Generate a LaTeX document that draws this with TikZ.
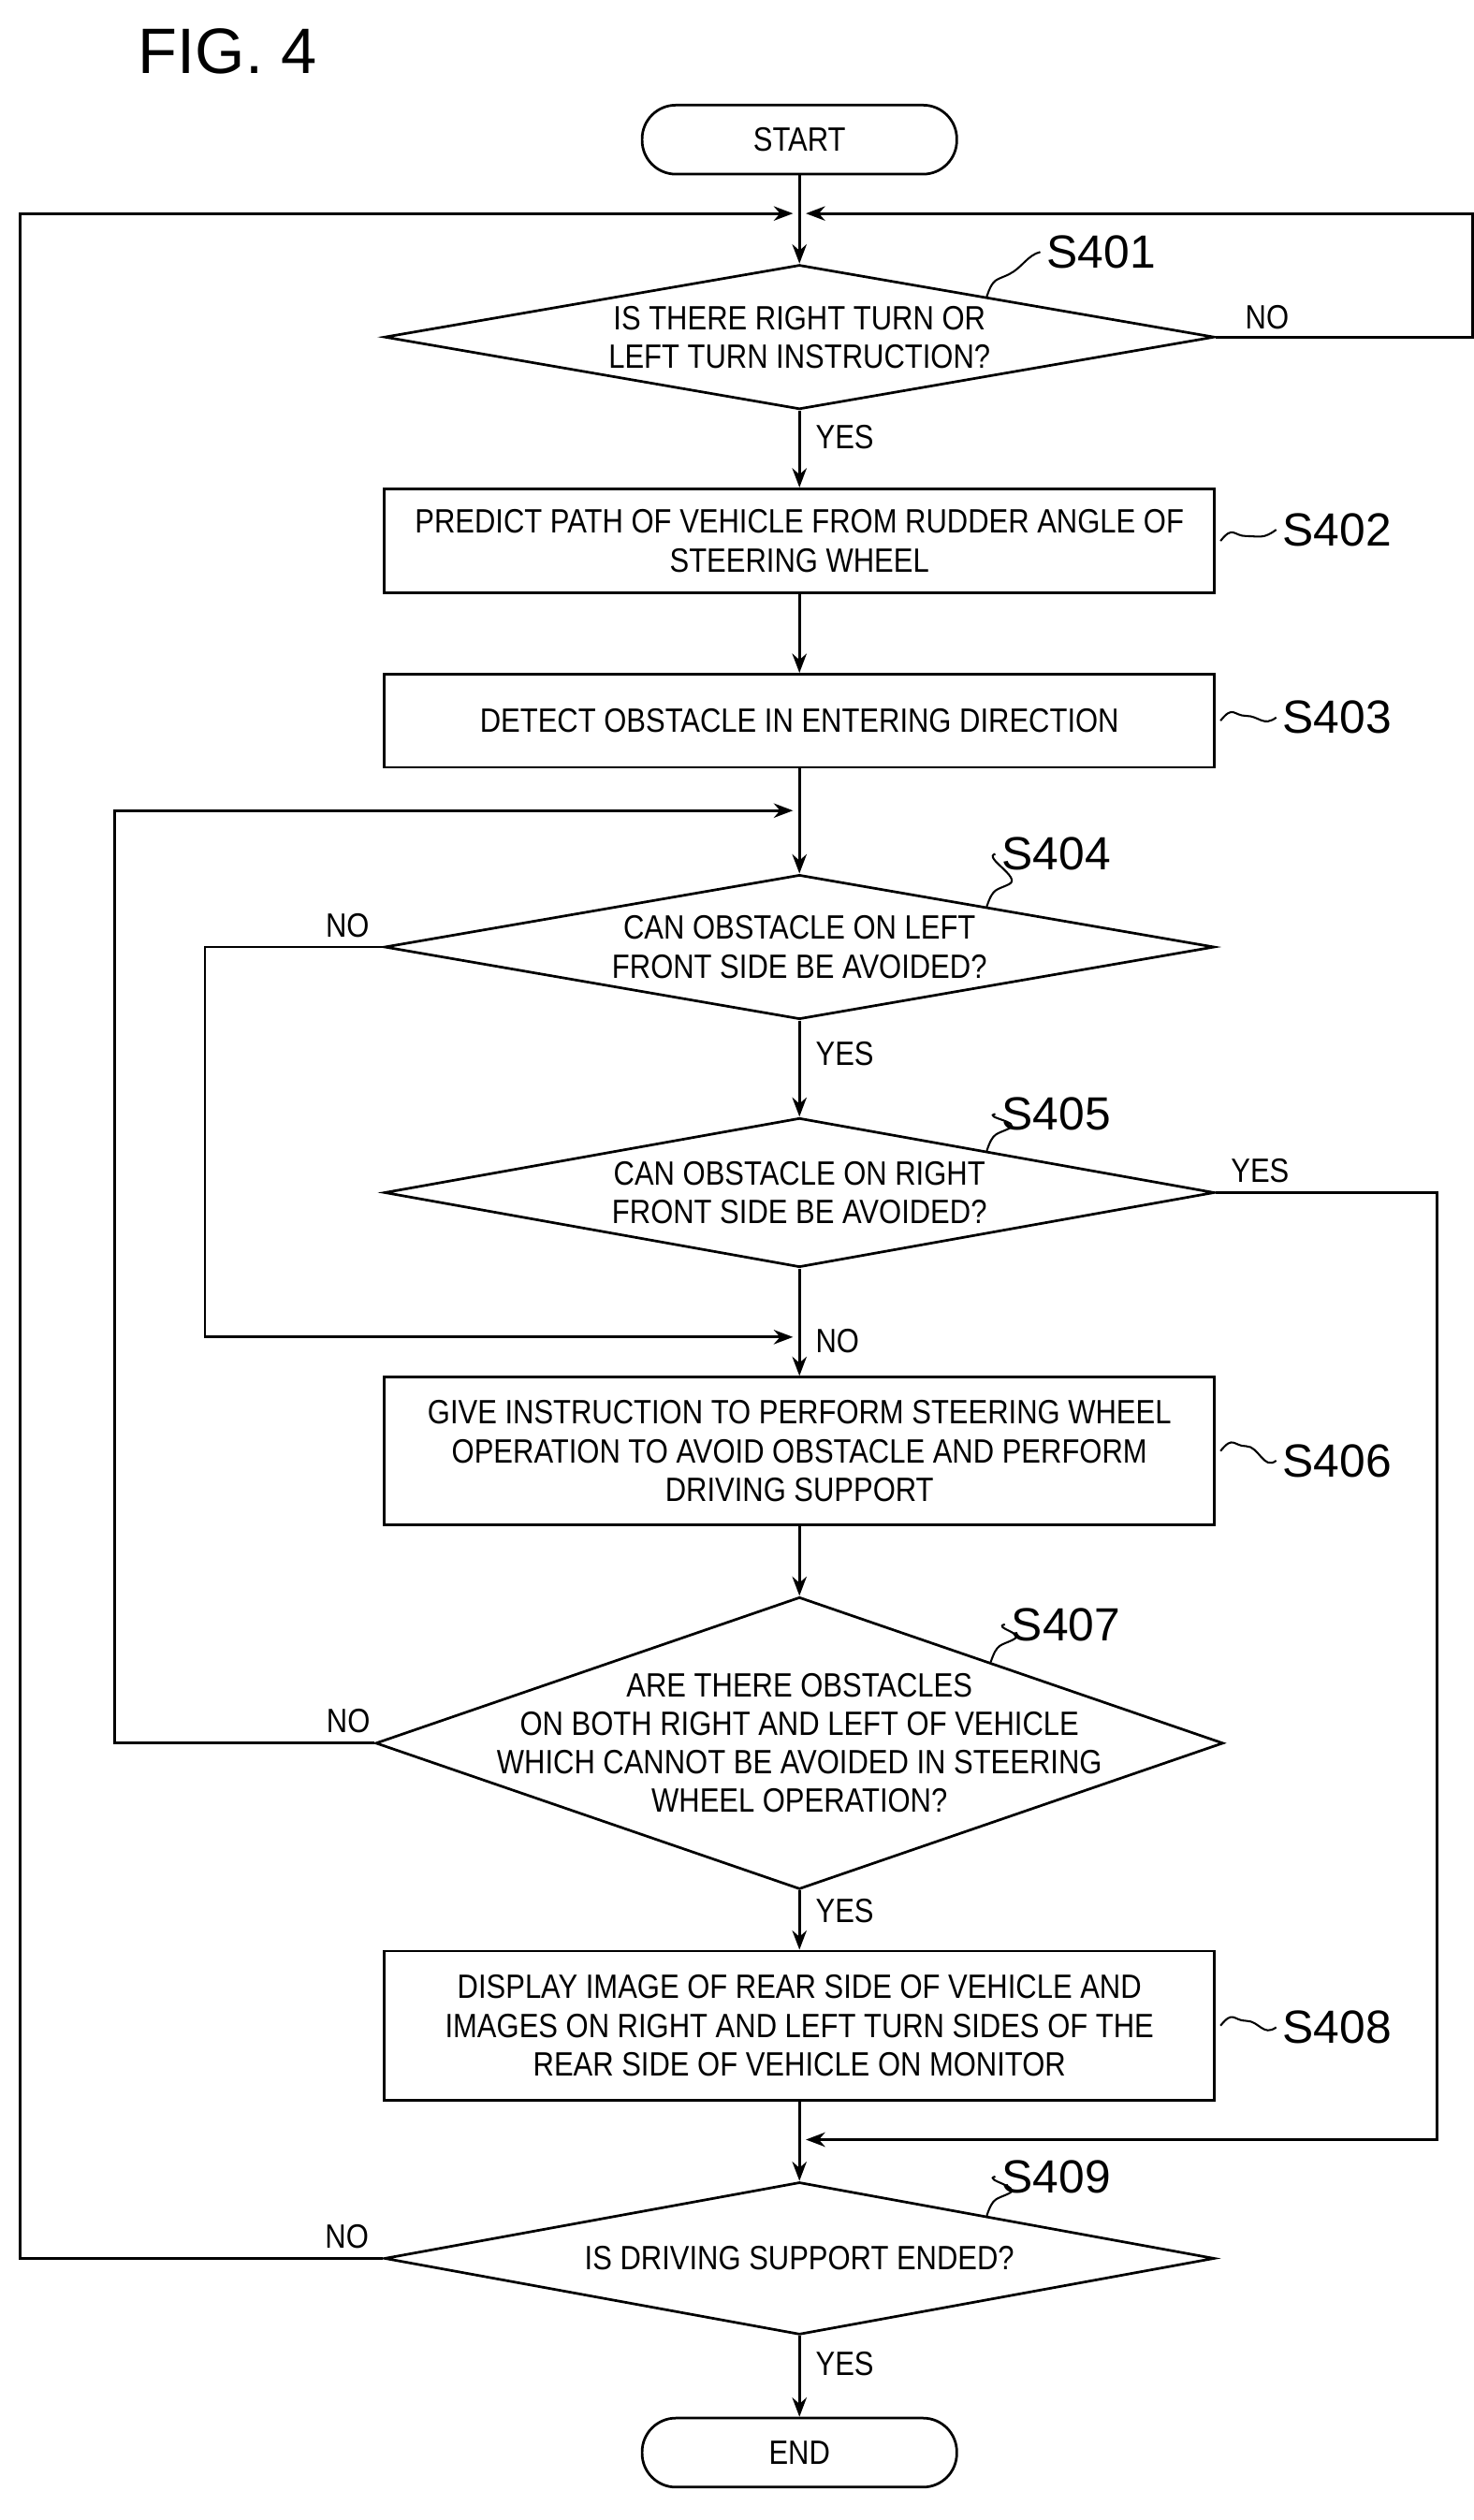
\documentclass[tikz,border=0pt]{standalone}
\usepackage{fontspec}
\setmainfont{Liberation Sans}
\newfontfamily\cond{Liberation Sans}[FakeStretch=0.86]
\usetikzlibrary{shapes.geometric,arrows.meta,calc}
\begin{document}
\begin{tikzpicture}[x=1pt,y=-1pt,line width=1.6pt,
  every node/.style={font=\cond\fontsize{21}{24}\selectfont},
  box/.style={draw,minimum width=517pt,align=center,inner sep=0pt},
  term/.style={draw,rounded corners=21pt,minimum width=196pt,minimum height=43pt,inner sep=0pt},
  dia/.style={draw,diamond,inner sep=0pt},
  lbl/.style={font=\fontsize{29}{32}\selectfont,anchor=west},
  yn/.style={font=\cond\fontsize{21}{24}\selectfont},
  arr/.style={-{Stealth[length=12pt,width=9pt]}}]
\useasboundingbox (0,0) rectangle (918,1570);
\node[font=\fontsize{40}{44}\selectfont,anchor=west] (fig) at (82,32) {FIG. 4};
\node[term] (start) at (498,87) {START};
\coordinate (j1) at (498,133);
\node[dia,minimum width=517pt,minimum height=90pt] (d1) at (498,210) {};
\node[align=center] (t1) at (498,210) {IS THERE RIGHT TURN OR\\LEFT TURN INSTRUCTION?};
\node[box,minimum height=65pt] (s2) at (498,337) {PREDICT PATH OF VEHICLE FROM RUDDER ANGLE OF\\STEERING WHEEL};
\node[box,minimum height=58pt] (s3) at (498,449) {DETECT OBSTACLE IN ENTERING DIRECTION};
\coordinate (j2) at (498,505);
\node[dia,minimum width=517pt,minimum height=90pt] (d4) at (498,590) {};
\node[align=center] (t4) at (498,590) {CAN OBSTACLE ON LEFT\\FRONT SIDE BE AVOIDED?};
\node[dia,minimum width=517pt,minimum height=93pt] (d5) at (498,743) {};
\node[align=center] (t5) at (498,743) {CAN OBSTACLE ON RIGHT\\FRONT SIDE BE AVOIDED?};
\coordinate (j3) at (498,833);
\node[box,minimum height=92pt] (s6) at (498,904) {GIVE INSTRUCTION TO PERFORM STEERING WHEEL\\OPERATION TO AVOID OBSTACLE AND PERFORM\\DRIVING SUPPORT};
\node[dia,minimum width=528pt,minimum height=182pt] (d7) at (498,1086) {};
\node[align=center] (t7) at (498,1086) {ARE THERE OBSTACLES\\ON BOTH RIGHT AND LEFT OF VEHICLE\\WHICH CANNOT BE AVOIDED IN STEERING\\WHEEL OPERATION?};
\node[box,minimum height=93pt] (s8) at (498,1262) {DISPLAY IMAGE OF REAR SIDE OF VEHICLE AND\\IMAGES ON RIGHT AND LEFT TURN SIDES OF THE\\REAR SIDE OF VEHICLE ON MONITOR};
\coordinate (j4) at (498,1333);
\node[dia,minimum width=517pt,minimum height=95pt] (d9) at (498,1407) {};
\node (t9) at (498,1407) {IS DRIVING SUPPORT ENDED?};
\node[term] (end) at (498,1528) {END};
% labels
\node[lbl] (l1) at (648,157) {S401};
\node[lbl] (l2) at (795,330) {S402};
\node[lbl] (l3) at (795,447) {S403};
\node[lbl] (l4) at (620,532) {S404};
\node[lbl] (l5) at (620,694) {S405};
\node[lbl] (l6) at (795,910) {S406};
\node[lbl] (l7) at (626,1012) {S407};
\node[lbl] (l8) at (795,1263) {S408};
\node[lbl] (l9) at (620,1356) {S409};
\foreach \b/\l in {s2/l2,s3/l3,s6/l6,s8/l8}{
  \draw[line width=1.2pt] (\b.east) ++(3,0) .. controls +(8,-10) and +(-8,0) .. ++(16,-3) .. controls +(8,0) and +(-8,6) .. (\l.west);}
\foreach \d/\l in {d1/l1,d4/l4,d5/l5,d9/l9,d7/l7}{
  \draw[line width=1.2pt] ($(\d.north)!0.45!(\d.east)$) .. controls +(4,-12) and +(-8,4) .. ++(14,-14) .. controls +(8,-4) and +(-8,2) .. (\l.west);}
% connectors
\draw (start) -- (j1);
\draw[arr] (j1) -- (d1.north);
\draw[arr] (d1.south) -- node[yn,right=6pt,pos=0.35]{YES} (s2);
\draw[arr] (s2) -- (s3);
\draw (s3) -- (j2);
\draw[arr] (j2) -- (d4.north);
\draw[arr] (d4.south) -- node[yn,right=6pt,pos=0.35]{YES} (d5.north);
\draw (d5.south) -- (j3);
\draw[arr] (j3) -- node[yn,right=6pt,pos=0.1]{NO} (s6);
\draw[arr] (s6) -- (d7.north);
\draw[arr] (d7.south) -- node[yn,right=6pt,pos=0.35]{YES} (s8);
\draw (s8) -- (j4);
\draw[arr] (j4) -- (d9.north);
\draw[arr] (d9.south) -- node[yn,right=6pt,pos=0.35]{YES} (end);
% loops
\draw[arr] (d1.east) -- node[yn,above=1pt,pos=0.2]{NO} ++(160,0) |- ($(j1)+(4,0)$);
\draw[arr] (d4.west) -- node[yn,above=2pt,pos=0.2]{NO} ++(-111,0) |- ($(j3)+(-4,0)$);
\draw[arr] (d5.east) -- node[yn,above=2pt,pos=0.2]{YES} ++(138,0) |- ($(j4)+(4,0)$);
\draw[arr] (d7.west) -- node[yn,above=2pt,pos=0.1]{NO} ++(-162,0) |- ($(j2)+(-4,0)$);
\draw[arr] (d9.west) -- node[yn,above=2pt,pos=0.1]{NO} ++(-226,0) |- ($(j1)+(-4,0)$);
\end{tikzpicture}
\end{document}
